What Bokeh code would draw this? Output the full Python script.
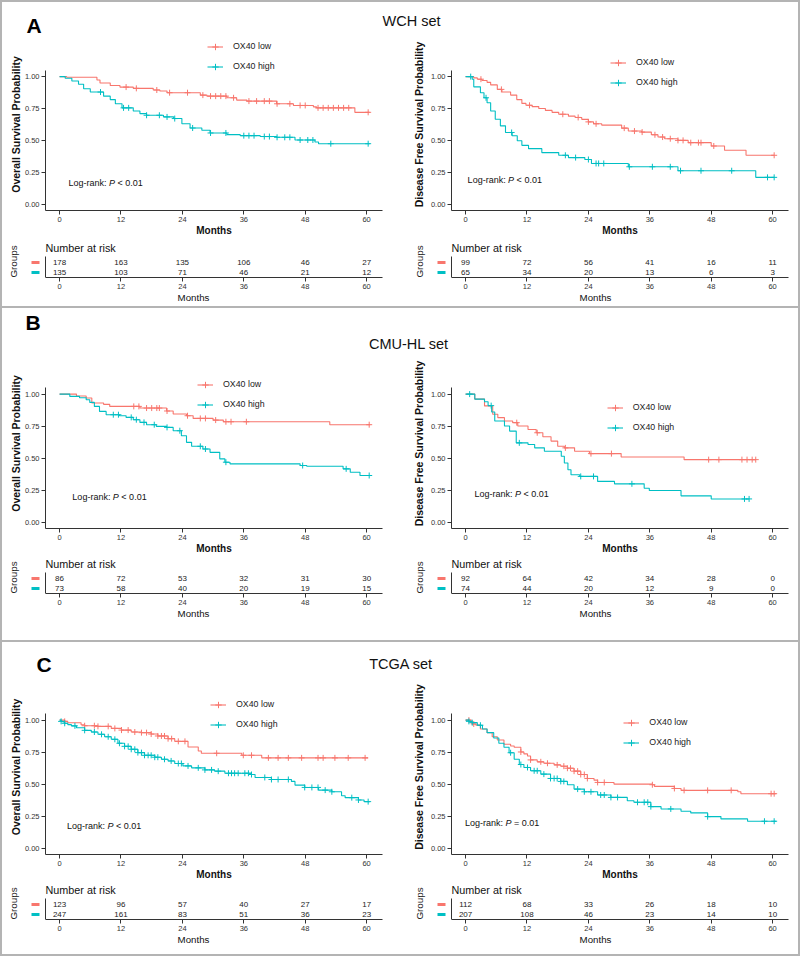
import numpy as np
from bokeh.plotting import figure
from bokeh.layouts import column, row
from bokeh.models import Range1d, FixedTicker, NumeralTickFormatter, Legend, LegendItem, Label, Spacer
from bokeh.core.properties import value
from bokeh.embed import file_html
from bokeh.resources import INLINE

RED = "#F8766D"
TEAL = "#00BFC4"
FONT = "Liberation Sans"
GRAY = "#b4b4b4"

groups = ["OX40 low", "OX40 high"]
month_ticks = [0, 12, 24, 36, 48, 60]
prob_ticks = [0, 0.25, 0.5, 0.75, 1.0]

# ---------------- WCH set ----------------
wch_os_low_t = [0, 1.4, 7.3, 7.9, 9.9, 11.8, 14.4, 18.3, 19.6, 21.0, 27.5, 28.8, 32.7, 34.6, 36.6, 42.4, 45.7, 49.6, 50.2, 57.7, 60.6]
wch_os_low_s = [1, 0.995, 0.974, 0.95, 0.93, 0.918, 0.908, 0.895, 0.887, 0.874, 0.855, 0.847, 0.834, 0.816, 0.808, 0.787, 0.774, 0.763, 0.755, 0.72, 0.72]
wch_os_low_c = [13, 15, 19, 21.5, 25, 28, 29.5, 30.5, 31.5, 32.5, 34, 37, 38.5, 40, 41, 42.5, 45, 47, 48, 50.5, 51.5, 52.5, 53.5, 54.5, 55.5, 56.5, 60.3]
wch_os_high_t = [0, 1.1, 2.4, 3.7, 4.7, 6.0, 8.6, 9.9, 10.9, 12.2, 14.4, 15.7, 17.0, 20.3, 22.3, 23.9, 25.5, 27.8, 29.4, 32.7, 35.3, 39.2, 42.4, 46.0, 49.9, 50.6, 60.6]
wch_os_high_s = [1, 0.987, 0.966, 0.94, 0.905, 0.879, 0.847, 0.82, 0.787, 0.755, 0.73, 0.71, 0.697, 0.684, 0.671, 0.63, 0.597, 0.579, 0.558, 0.545, 0.537, 0.53, 0.524, 0.503, 0.487, 0.474, 0.474]
wch_os_high_c = [8, 12.5, 13.5, 17, 19.5, 21, 22.5, 26, 29.5, 32.5, 36, 37, 38, 40, 41, 42.5, 44, 45, 47, 48.5, 49.5, 53, 60.3]

wch_dfs_low_t = [0, 1.6, 2.3, 3.2, 4.2, 4.9, 6.2, 7.1, 8.8, 10.0, 11.0, 11.8, 13.0, 14.3, 15.6, 16.9, 18.2, 20.1, 21.4, 22.7, 24.0, 25.0, 26.6, 30.5, 31.8, 34.4, 36.3, 37.6, 38.9, 41.5, 43.5, 48.0, 50.6, 54.8, 60.3]
wch_dfs_low_s = [1, 0.99, 0.98, 0.97, 0.955, 0.935, 0.9, 0.88, 0.855, 0.82, 0.79, 0.775, 0.765, 0.75, 0.735, 0.72, 0.705, 0.69, 0.68, 0.665, 0.645, 0.63, 0.62, 0.596, 0.573, 0.565, 0.544, 0.526, 0.513, 0.5, 0.482, 0.456, 0.422, 0.383, 0.383]
wch_dfs_low_c = [3, 7, 12.5, 19, 22, 24, 25.5, 31, 33, 34.5, 37, 38.5, 40, 41.5, 42.5, 44, 45.5, 46, 48.5, 60.3]
wch_dfs_high_t = [0, 1.3, 1.6, 2.9, 3.6, 4.2, 4.9, 5.8, 6.8, 7.8, 9.1, 10.1, 11.0, 12.3, 14.9, 18.2, 20.1, 23.3, 24.6, 31.8, 41.5, 56.7, 60.3]
wch_dfs_high_s = [1, 0.98, 0.92, 0.873, 0.834, 0.795, 0.73, 0.666, 0.614, 0.562, 0.536, 0.497, 0.461, 0.435, 0.404, 0.383, 0.365, 0.35, 0.319, 0.293, 0.262, 0.21, 0.21]
wch_dfs_high_c = [1, 4, 9, 19.5, 21.5, 24, 25.5, 26, 27, 32, 36.5, 40, 42, 46, 52, 59, 60.3]

wch_os_risk_low = [178, 163, 135, 106, 46, 27]
wch_os_risk_high = [135, 103, 71, 46, 21, 12]
wch_dfs_risk_low = [99, 72, 56, 41, 16, 11]
wch_dfs_risk_high = [65, 34, 20, 13, 6, 3]

# ---------------- CMU-HL set ----------------
cmu_os_low_t = [0, 3.3, 5.2, 6.3, 8.6, 9.8, 15.7, 20.9, 22.2, 24.8, 26.1, 30.0, 32.0, 52.8, 60.7]
cmu_os_low_s = [1, 0.985, 0.97, 0.93, 0.92, 0.904, 0.891, 0.868, 0.844, 0.831, 0.81, 0.797, 0.784, 0.761, 0.761]
cmu_os_low_c = [14.5, 15.5, 17, 18, 19, 19.5, 21, 25, 27.5, 28.5, 30.5, 32.5, 33.5, 36.5, 60.5]
cmu_os_high_t = [0, 2.0, 3.9, 5.2, 5.9, 6.8, 7.8, 9.1, 11.7, 13.0, 14.4, 15.7, 17.0, 18.9, 20.9, 22.2, 23.8, 24.8, 25.8, 28.0, 29.4, 31.3, 32.3, 33.3, 47.0, 48.3, 55.4, 56.8, 58.7, 60.7]
cmu_os_high_s = [1, 0.982, 0.971, 0.956, 0.935, 0.904, 0.865, 0.839, 0.831, 0.818, 0.8, 0.779, 0.761, 0.748, 0.74, 0.714, 0.675, 0.623, 0.592, 0.571, 0.545, 0.494, 0.468, 0.455, 0.442, 0.436, 0.416, 0.39, 0.364, 0.364]
cmu_os_high_c = [10.5, 11.5, 14, 15, 16.5, 18.5, 21, 23.5, 27.5, 28.5, 32.5, 47.5, 56, 60.5]

cmu_dfs_low_t = [0, 1.8, 3.7, 5.3, 6.3, 7.6, 9.2, 10.2, 12.2, 13.8, 15.1, 16.7, 18.0, 19.3, 21.3, 24.2, 30.4, 42.7, 56.7]
cmu_dfs_low_s = [1, 0.961, 0.908, 0.843, 0.816, 0.79, 0.777, 0.751, 0.724, 0.698, 0.667, 0.633, 0.593, 0.58, 0.554, 0.535, 0.509, 0.488, 0.488]
cmu_dfs_low_c = [10, 14, 19.5, 24.5, 28.5, 47.5, 49.5, 54, 55, 56, 56.7]
cmu_dfs_high_t = [0, 1.8, 3.7, 4.4, 5.1, 5.7, 7.6, 8.6, 9.9, 12.2, 13.5, 15.4, 18.7, 19.3, 20.0, 20.6, 22.3, 25.8, 29.1, 34.9, 35.9, 42.1, 48.0, 55.4]
cmu_dfs_high_s = [1, 0.961, 0.94, 0.91, 0.86, 0.79, 0.751, 0.711, 0.619, 0.606, 0.58, 0.554, 0.514, 0.462, 0.409, 0.37, 0.357, 0.318, 0.299, 0.265, 0.247, 0.205, 0.181, 0.181]
cmu_dfs_high_c = [0.8, 5, 10.5, 22.5, 25, 32.5, 54.5, 55.4]

cmu_os_risk_low = [86, 72, 53, 32, 31, 30]
cmu_os_risk_high = [73, 58, 40, 20, 19, 15]
cmu_dfs_risk_low = [92, 64, 42, 34, 28, 0]
cmu_dfs_risk_high = [74, 44, 20, 12, 9, 0]

# ---------------- TCGA set ----------------
tcga_os_low_t = [0, 1.0, 1.6, 4.2, 4.9, 7.5, 10.1, 12.1, 14.0, 16.0, 17.9, 19.2, 21.2, 22.5, 25.1, 27.1, 27.7, 35.6, 39.5, 60.3]
tcga_os_low_s = [1, 0.99, 0.979, 0.964, 0.956, 0.951, 0.935, 0.922, 0.907, 0.902, 0.891, 0.876, 0.855, 0.834, 0.79, 0.759, 0.741, 0.725, 0.705, 0.705]
tcga_os_low_c = [1, 4.9, 6.8, 7.5, 9.5, 10.8, 12.1, 13.4, 14.7, 16, 17, 17.9, 19.2, 19.9, 20.5, 21.2, 21.9, 23.2, 24.5, 30.7, 35.9, 37.5, 40.8, 42.7, 44.7, 47.3, 50.5, 51.5, 53.8, 56.4, 59.7]
tcga_os_high_t = [0, 0.3, 0.65, 1.0, 1.6, 2.3, 3.3, 4.9, 6.2, 7.5, 8.8, 10.1, 11.4, 12.7, 14.0, 15.3, 16.6, 18.6, 19.9, 21.2, 22.5, 24.1, 25.8, 28.4, 30.3, 32.3, 37.5, 38.2, 41.4, 45.3, 46.0, 47.9, 50.6, 53.2, 55.1, 55.8, 58.4, 59.5, 60.6]
tcga_os_high_s = [1, 0.99, 0.985, 0.975, 0.965, 0.955, 0.94, 0.92, 0.907, 0.889, 0.87, 0.85, 0.819, 0.795, 0.772, 0.746, 0.725, 0.71, 0.694, 0.681, 0.661, 0.642, 0.627, 0.611, 0.601, 0.585, 0.575, 0.552, 0.536, 0.521, 0.492, 0.474, 0.453, 0.44, 0.409, 0.394, 0.376, 0.363, 0.363]
tcga_os_high_c = [0.3, 1, 3, 4.9, 6.8, 8.2, 9.5, 10.8, 11.7, 12.7, 13.4, 14, 14.7, 15.3, 16, 16.6, 17.3, 17.9, 18.6, 19.2, 20.5, 21.8, 23.2, 23.8, 25.1, 27.1, 28.4, 29.7, 31, 33, 33.6, 34.2, 34.9, 36.2, 36.9, 37.5, 40.1, 41.4, 42.7, 44.7, 47.9, 49.3, 50.5, 51.9, 53.2, 57.1, 58.4, 60.3]

tcga_dfs_low_t = [0, 1.0, 1.3, 2.0, 2.9, 4.2, 5.2, 6.2, 7.5, 8.8, 9.5, 10.8, 11.4, 12.1, 12.7, 14.0, 15.3, 17.3, 18.6, 19.9, 21.2, 22.5, 23.8, 25.1, 25.8, 29.0, 36.5, 36.9, 40.8, 42.1, 53.2, 53.8, 60.7]
tcga_dfs_low_s = [1, 0.979, 0.97, 0.961, 0.93, 0.902, 0.87, 0.845, 0.811, 0.798, 0.788, 0.751, 0.736, 0.72, 0.689, 0.674, 0.663, 0.65, 0.64, 0.624, 0.601, 0.575, 0.544, 0.531, 0.513, 0.5, 0.495, 0.482, 0.466, 0.451, 0.44, 0.425, 0.425]
tcga_dfs_low_c = [0.65, 1.6, 10.8, 12.7, 14.7, 16, 17.9, 19.2, 19.9, 20.5, 21.2, 21.9, 22.5, 23.2, 23.8, 25.8, 27.1, 36.5, 40.8, 42.7, 47.3, 51.9, 59.7, 60.3]
tcga_dfs_high_t = [0, 0.65, 1.3, 2.3, 3.3, 4.2, 5.5, 6.5, 7.5, 8.5, 9.5, 10.5, 11.4, 12.7, 14.7, 16.6, 18.6, 19.9, 21.2, 23.2, 25.8, 28.4, 31.6, 32.9, 36.2, 38.2, 42.1, 44.0, 47.3, 49.9, 55.1, 60.7]
tcga_dfs_high_s = [1, 0.99, 0.98, 0.96, 0.93, 0.902, 0.86, 0.819, 0.788, 0.745, 0.694, 0.653, 0.63, 0.604, 0.578, 0.544, 0.521, 0.495, 0.461, 0.44, 0.415, 0.396, 0.37, 0.358, 0.324, 0.306, 0.288, 0.275, 0.246, 0.228, 0.21, 0.21]
tcga_dfs_high_c = [0.65, 1.3, 2.9, 8.8, 10.8, 12.1, 13.4, 14, 15.3, 16.6, 17.3, 17.9, 18.6, 19.2, 21.9, 23.2, 24.5, 26.4, 27.1, 28.4, 29.7, 33.6, 34.9, 35.6, 36.2, 40.1, 47.3, 58.4, 60.3]

tcga_os_risk_low = [123, 96, 57, 40, 27, 17]
tcga_os_risk_high = [247, 161, 83, 51, 36, 23]
tcga_dfs_risk_low = [112, 68, 33, 26, 18, 10]
tcga_dfs_risk_high = [207, 108, 46, 23, 14, 10]

# ---------------- layout helpers ----------------
X0, X1 = -2.75, 63.1
FRAME_W = 337
PPX = FRAME_W / (X1 - X0)
PANEL_W = 398
AX_L, AX_R = 43, 51          # y-axis position inside left / right panel


def surv_at(t, s, c):
    t = np.asarray(t, dtype=float)
    s = np.asarray(s, dtype=float)
    idx = np.searchsorted(t, np.asarray(c, dtype=float), side="right") - 1
    return s[np.clip(idx, 0, len(s) - 1)]


def style_axis(ax, label, bold, size):
    ax.axis_label = label
    ax.axis_label_text_font = FONT
    ax.axis_label_text_font_style = "bold" if bold else "normal"
    ax.axis_label_text_font_size = size
    ax.axis_label_text_color = "#111111"
    ax.major_label_text_font = FONT
    ax.major_label_text_font_size = "7.5px"
    ax.major_label_text_color = "#333333"
    ax.axis_line_color = "#333333"
    ax.axis_line_width = 1
    ax.major_tick_line_color = "#333333"
    ax.major_tick_out = 4
    ax.major_tick_in = 0
    ax.minor_tick_line_color = None
    ax.major_label_standoff = 2


def km_figure(right, height, mbb, ppu, ylabel, curves, leg_loc, p_xy, p_rest):
    mbl = AX_R if right else AX_L
    mbr = PANEL_W - mbl - FRAME_W
    fh = height - mbb
    p = figure(width=PANEL_W, height=height, x_range=Range1d(X0, X1),
               y_range=Range1d(-0.05, -0.05 + fh / ppu),
               min_border_left=mbl, min_border_right=mbr, min_border_top=0, min_border_bottom=mbb,
               output_backend="svg", toolbar_location=None, frame_align=False)
    p.grid.visible = False
    p.outline_line_color = None
    rends = []
    for (t, s, c), color in zip(curves, [RED, TEAL]):
        r1 = p.step(x=t, y=s, mode="after", line_color=color, line_width=1.1)
        r2 = p.scatter(x=c, y=surv_at(t, s, c), marker="cross", size=6,
                       line_color=color, line_width=1)
        rends.append([r1, r2])
    xa = p.xaxis[0]
    style_axis(xa, "Months", True, "10px")
    xa.ticker = FixedTicker(ticks=month_ticks)
    xa.axis_label_standoff = 0
    ya = p.yaxis[0]
    style_axis(ya, ylabel, True, "10.5px")
    ya.ticker = FixedTicker(ticks=prob_ticks)
    ya.formatter = NumeralTickFormatter(format="0.00")
    ya.bounds = (-0.05, 1.05)
    ya.axis_label_standoff = 3 if right else 0

    legend = Legend(items=[LegendItem(label=value(groups[0]), renderers=rends[0]),
                           LegendItem(label=value(groups[1]), renderers=rends[1])],
                    location=leg_loc, orientation="vertical",
                    border_line_color=None, background_fill_alpha=0,
                    padding=0, margin=0, spacing=3, label_height=17, glyph_height=17,
                    glyph_width=16, label_standoff=10, label_text_font=FONT,
                    label_text_font_size="8.8px", label_text_color="#222222")
    p.add_layout(legend)

    common = dict(text_font=value(FONT), text_font_size=value("9px"), text_color="#111111",
                  text_baseline="middle", text_align="left")
    px, py = p_xy
    p.text(x=[px], y=[py], text=["Log-rank:"], **common)
    p.text(x=[px], y=[py], text=["P"], x_offset=40.5, text_font_style="italic", **common)
    p.text(x=[px], y=[py], text=[p_rest], x_offset=49, **common)
    return p


def risk_figure(right, height, low_vals, high_vals):
    ax = AX_R if right else AX_L
    mbl = 2
    fw = (ax - mbl) + FRAME_W
    mbr = PANEL_W - mbl - fw
    rx0 = X0 - (ax - mbl) / PPX
    p = figure(width=PANEL_W, height=height, x_range=Range1d(rx0, X1), y_range=Range1d(0, 3.6),
               min_border_left=mbl, min_border_right=mbr, min_border_top=1,
               min_border_bottom=height - 37, output_backend="svg", toolbar_location=None,
               frame_align=False)
    p.grid.visible = False
    p.outline_line_color = None
    num = dict(text_font=value(FONT), text_font_size=value("8px"), text_color="#222222",
               text_baseline="middle", text_align="center")
    p.text(x=month_ticks, y=[1.5] * 6, text=[str(v) for v in low_vals], **num)
    p.text(x=month_ticks, y=[0.5] * 6, text=[str(v) for v in high_vals], **num)
    p.text(x=[X0], y=[3.0], text=["Number at risk"], text_font=value(FONT),
           text_font_size=value("10.8px"), text_color="#111111",
           text_baseline="middle", text_align="left")
    p.text(x=[X0 - 32 / PPX], y=[1.6], text=["Groups"], angle=np.pi / 2,
           text_font=value(FONT), text_font_size=value("9.8px"), text_color="#222222",
           text_baseline="middle", text_align="center")
    p.segment(x0=[X0], y0=[0], x1=[X0], y1=[2.1], line_color="#333333", line_width=1)
    p.rect(x=[X0 - 10 / PPX] * 2, y=[1.5, 0.5], width=8 / PPX, height=3, height_units="screen",
           fill_color=[RED, TEAL], line_color=None)
    xa = p.xaxis[0]
    style_axis(xa, "Months", False, "9.7px")
    xa.ticker = FixedTicker(ticks=month_ticks)
    xa.bounds = (X0, X1)
    xa.axis_label_standoff = 0
    p.yaxis.visible = False
    return p


def header(h, letter, lx, ly, title, tx, ty):
    p = figure(width=796, height=h, x_axis_type=None, y_axis_type=None, min_border=0,
               output_backend="svg", toolbar_location=None, frame_align=False)
    p.outline_line_color = None
    p.grid.visible = False
    p.add_layout(Label(x=lx, y=ly, x_units="screen", y_units="screen", text=letter,
                       text_font=FONT, text_font_size="21px", text_font_style="bold",
                       text_baseline="middle", text_align="left", text_color="#000000"))
    p.add_layout(Label(x=tx, y=ty, x_units="screen", y_units="screen", text=title,
                       text_font=FONT, text_font_size="14.5px", text_baseline="middle",
                       text_align="center", text_color="#111111"))
    return p


def bar(w, h):
    return Spacer(width=w, height=h, margin=0, styles={"background-color": GRAY})


OS_LABEL = "Overall Survival Probability"
DFS_LABEL = "Disease Free Survival Probability"

# Section A
hA = header(36, "A", 24, 13, "WCH set", 409, 18)
kmA1 = km_figure(False, 202, 30, 127.5, OS_LABEL,
                 [(wch_os_low_t, wch_os_low_s, wch_os_low_c), (wch_os_high_t, wch_os_high_s, wch_os_high_c)],
                 (162, 135.5), (1.76, 0.165), "< 0.01")
rkA1 = risk_figure(False, 66, wch_os_risk_low, wch_os_risk_high)
kmA2 = km_figure(True, 202, 30, 127.5, DFS_LABEL,
                 [(wch_dfs_low_t, wch_dfs_low_s, wch_dfs_low_c), (wch_dfs_high_t, wch_dfs_high_s, wch_dfs_high_c)],
                 (159, 119.5), (0.4, 0.186), "< 0.01")
rkA2 = risk_figure(True, 66, wch_dfs_risk_low, wch_dfs_risk_high)
secA = column(hA, row(column(kmA1, rkA1), column(kmA2, rkA2)))

# Section B
hB = header(50, "B", 23, 36, "CMU-HL set", 406.3, 14.7)
kmB1 = km_figure(False, 198, 28, 128, OS_LABEL,
                 [(cmu_os_low_t, cmu_os_low_s, cmu_os_low_c), (cmu_os_high_t, cmu_os_high_s, cmu_os_high_c)],
                 (152, 115.5), (2.5, 0.2), "< 0.01")
rkB1 = risk_figure(False, 84, cmu_os_risk_low, cmu_os_risk_high)
kmB2 = km_figure(True, 198, 28, 128, DFS_LABEL,
                 [(cmu_dfs_low_t, cmu_dfs_low_s, cmu_dfs_low_c), (cmu_dfs_high_t, cmu_dfs_high_s, cmu_dfs_high_c)],
                 (155.7, 92.5), (1.75, 0.218), "< 0.01")
rkB2 = risk_figure(True, 84, cmu_dfs_risk_low, cmu_dfs_risk_high)
secB = column(hB, row(column(kmB1, rkB1), column(kmB2, rkB2)))

# Section C
hC = header(37, "C", 34, 15, "TCGA set", 398.5, 16)
kmC1 = km_figure(False, 203, 28, 128, OS_LABEL,
                 [(tcga_os_low_t, tcga_os_low_s, tcga_os_low_c), (tcga_os_high_t, tcga_os_high_s, tcga_os_high_c)],
                 (165, 121.5), (1.43, 0.171), "< 0.01")
rkC1 = risk_figure(False, 72, tcga_os_risk_low, tcga_os_risk_high)
kmC2 = km_figure(True, 203, 28, 128, DFS_LABEL,
                 [(tcga_dfs_low_t, tcga_dfs_low_s, tcga_dfs_low_c), (tcga_dfs_high_t, tcga_dfs_high_s, tcga_dfs_high_c)],
                 (172.3, 103.5), (-0.1, 0.194), "= 0.01")
rkC2 = risk_figure(True, 72, tcga_dfs_risk_low, tcga_dfs_risk_high)
secC = column(hC, row(column(kmC1, rkC1), column(kmC2, rkC2)))

H = 304 + 2 + 332 + 2 + 312
inner = column(secA, bar(796, 2), secB, bar(796, 2), secC)
page = column(bar(800, 2), row(bar(2, H), inner, bar(2, H)), bar(800, 2))

open("out.html", "w").write(file_html(page, INLINE))
